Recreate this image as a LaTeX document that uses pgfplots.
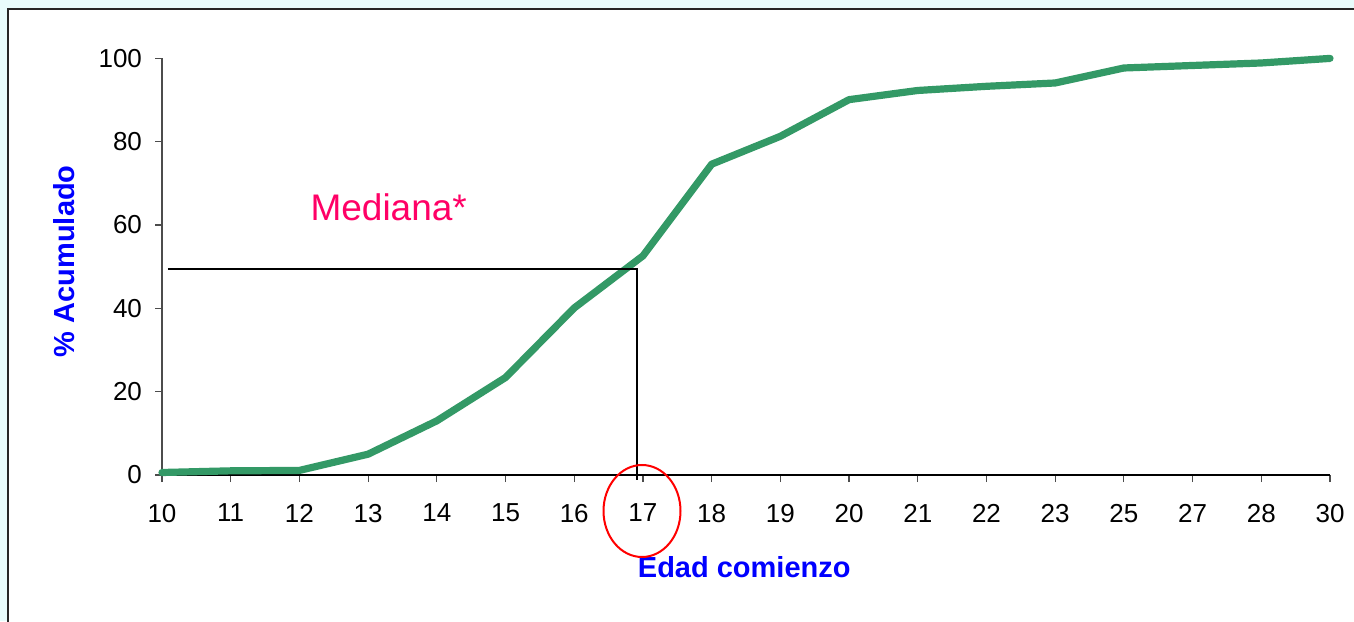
\documentclass[border=0pt]{standalone}
\usepackage{pgfplots}
\pgfplotsset{compat=1.18}
\usepackage{fontspec}
\setmainfont{Liberation Sans}
\definecolor{bgcyan}{RGB}{232,252,252}
\definecolor{lgreen}{RGB}{51,153,102}
\definecolor{medpink}{RGB}{255,0,102}
\begin{document}
\begin{tikzpicture}
\clip (0pt,0pt) rectangle (677pt,310.5pt);
\fill[bgcyan] (0pt,0pt) rectangle (677pt,310.5pt);
\filldraw[fill=white,draw=black!85,line width=1pt] (4pt,-20pt) rectangle (700pt,306pt);
\begin{axis}[
  at={(81pt,73pt)}, anchor=south west,
  scale only axis, width=584pt, height=208.3pt,
  xmin=0, xmax=17, ymin=0, ymax=100,
  axis x line*=bottom, axis y line*=left,
  axis line style={-, line width=0.7pt},
  x axis line style={black},
  y axis line style={black!70},
  xtick={0,...,17},
  xticklabels={10,11,12,13,14,15,16,17,18,19,20,21,22,23,25,27,28,30},
  ytick={0,20,40,60,80,100},
  tick align=outside,
  major tick length=3.5pt,
  tick style={black!70, line width=0.6pt},
  /pgf/number format/assume math mode=true,
  tick label style={font=\fontsize{13}{13}\selectfont},
  xticklabel style={yshift=-7.5pt},
  yticklabel style={xshift=-3pt},
  xlabel={Edad comienzo},
  ylabel={\% Acumulado},
  xlabel style={at={(axis description cs:0.4985,-0.247)}, anchor=base, text=blue, font=\bfseries\fontsize{14.5}{14.5}\selectfont},
  ylabel style={at={(axis description cs:-0.0745,0.513)}, anchor=base, rotate=0, text=blue, font=\bfseries\fontsize{14.5}{14.5}\selectfont},
  clip=false,
]
\addplot[lgreen, line width=3.6pt, line cap=round, line join=round] coordinates {
(0,0.6) (1,1.0) (2,1.1) (3,5.0) (4,13.0) (5,23.4) (6,40.1) (7,52.6) (8,74.6) (9,81.3) (10,90.1) (11,92.3) (12,93.3) (13,94.1) (14,97.7) (15,98.3) (16,98.9) (17,100)
};
\addplot[black, line width=1pt, line join=miter] coordinates {(0.087,49.4) (6.918,49.4) (6.918,-1.3)};
\node[text=medpink, font=\fontsize{18.5}{18.5}\selectfont, anchor=base] at (axis cs:3.30,61.2) {Mediana*};
\end{axis}
\draw[red, line width=1pt] (321pt,55pt) ellipse [x radius=19.25pt, y radius=23pt];
\end{tikzpicture}
\end{document}
